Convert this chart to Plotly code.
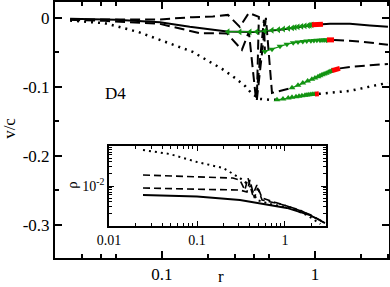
import math
import plotly.graph_objects as go

# ---------------- main panel data (r, v/c) ----------------
solid_r = [0.0251, 0.05, 0.097, 0.152, 0.266, 0.393, 0.591, 0.798, 1.0, 1.254, 1.694, 2.287, 3.0]
solid_v = [-0.0014, -0.0029, -0.0065, -0.013, -0.0196, -0.0203, -0.0174, -0.0138, -0.0101, -0.0087, -0.0087, -0.0109, -0.013]
gS_r = [0.270, 0.323, 0.376, 0.417, 0.471, 0.524, 0.577, 0.622, 0.671, 0.712, 0.740, 0.775, 0.818, 0.861, 0.904, 0.928, 0.955]
gS_v = [-0.0200, -0.0203, -0.0203, -0.0200, -0.0190, -0.0180, -0.0172, -0.0162, -0.0152, -0.0145, -0.0138, -0.0130, -0.0123, -0.0116, -0.0110, -0.0106, -0.0101]
redS_r = [0.955, 1.04, 1.128]
redS_v = [-0.0101, -0.0097, -0.0094]

dashA_r = [0.0251, 0.0423, 0.097, 0.159, 0.215, 0.270, 0.323, 0.370, 0.430, 0.417, 0.478, 0.524, 0.600, 0.708]
dashA_v = [-0.0022, -0.0019, -0.0022, 0.001, 0.0019, 0.0043, -0.013, 0.0072, 0.0014, -0.1188, 0.0, -0.1087, -0.1058, -0.1014]
gA_r = [0.708, 0.775, 0.833, 0.896, 0.955, 1.0, 1.046, 1.079, 1.113, 1.148, 1.185, 1.222, 1.254, 1.293]
gA_v = [-0.1014, -0.0977, -0.0945, -0.0914, -0.0889, -0.0871, -0.0852, -0.0839, -0.0826, -0.0814, -0.0801, -0.0788, -0.0777, -0.0764]
redA_r = [1.293, 1.371, 1.456]
redA_v = [-0.0764, -0.0748, -0.0732]
dashA2_r = [1.456, 1.694, 2.287, 3.0]
dashA2_v = [-0.0732, -0.0712, -0.0688, -0.0667]

dashB_r = [0.0251, 0.0423, 0.097, 0.1253, 0.177, 0.266, 0.333, 0.370, 0.412, 0.464, 0.471]
dashB_v = [-0.0029, -0.0043, -0.0087, -0.0149, -0.0222, -0.0225, -0.0464, -0.0203, -0.1188, -0.0029, -0.0488]
gB_r = [0.471, 0.524, 0.591, 0.656, 0.721, 0.775, 0.833, 0.884, 0.941, 0.985, 1.030, 1.079, 1.113, 1.148, 1.185, 1.197]
gB_v = [-0.0488, -0.0454, -0.0413, -0.0381, -0.0362, -0.0351, -0.0342, -0.0335, -0.0330, -0.0328, -0.0325, -0.0323, -0.0322, -0.0321, -0.0320, -0.0319]
redB_r = [1.197, 1.26, 1.333]
redB_v = [-0.0319, -0.0319, -0.0319]
dashB2_r = [1.333, 1.6, 1.97, 2.45, 3.0]
dashB2_v = [-0.0319, -0.0328, -0.0343, -0.0365, -0.0391]

dot_r = [0.0251, 0.0423, 0.0697, 0.090, 0.159, 0.200, 0.247, 0.300, 0.349, 0.387, 0.437, 0.508, 0.565]
dot_v = [-0.0039, -0.0077, -0.0203, -0.029, -0.0493, -0.0623, -0.0739, -0.087, -0.0986, -0.110, -0.1174, -0.1188, -0.1188]
gD_r = [0.565, 0.618, 0.669, 0.708, 0.752, 0.787, 0.822, 0.861, 0.887, 0.913, 0.941, 0.970, 1.0]
gD_v = [-0.1188, -0.1174, -0.1162, -0.1152, -0.1142, -0.1135, -0.1128, -0.1120, -0.1116, -0.1113, -0.1110, -0.1107, -0.1106]
redD_r = [1.0, 1.03, 1.06]
redD_v = [-0.1105, -0.1103, -0.1101]
dot2_r = [1.06, 1.254, 1.694, 2.4, 3.0]
dot2_v = [-0.1101, -0.1087, -0.1058, -0.0985, -0.0942]

# ---------------- inset data (r, rho) ----------------
in_solid_r = [0.0243, 0.0493, 0.1, 0.308, 0.481, 1.05, 1.92, 2.85]
in_solid_rho = [5.96e-3, 5.8e-3, 5.47e-3, 4.47e-3, 3.76e-3, 2.82e-3, 1.88e-3, 1.19e-3]
in_dashU_r = [0.0243, 0.1, 0.256, 0.308, 0.35, 0.38, 0.43, 0.48, 0.55, 0.77, 1.14, 1.92, 2.85]
in_dashU_rho = [0.0188, 0.0173, 0.0158, 0.0141, 7.9e-3, 0.0158, 5.96e-3, 0.0106, 5.0e-3, 3.9e-3, 3.0e-3, 1.95e-3, 1.2e-3]
in_dashL_r = [0.0243, 0.1, 0.308, 0.37, 0.40, 0.45, 0.49, 0.55, 0.88, 1.48, 2.85]
in_dashL_rho = [8.9e-3, 8.4e-3, 7.9e-3, 7.1e-3, 0.0141, 5.0e-3, 8.9e-3, 4.47e-3, 3.55e-3, 2.5e-3, 1.19e-3]
in_dot_r = [0.0243, 0.049, 0.1, 0.198, 0.308, 0.40, 0.481, 0.675, 1.14, 1.79, 2.53]
in_dot_rho = [0.0794, 0.063, 0.0398, 0.0282, 0.0158, 0.01, 4.47e-3, 3.55e-3, 2.82e-3, 1.88e-3, 1.12e-3]

main_xticks = [0.1, 1]
main_xticktext = ["0.1", "1"]
main_xminor = [0.03, 0.04, 0.05, 0.2, 0.3, 0.4, 0.5, 2, 3]
main_yticks = [0, -0.1, -0.2, -0.3]
main_yticktext = ["0", "-0.1", "-0.2", "-0.3"]
main_yminor = [-0.05, -0.15, -0.25]
in_xticks = [0.01, 0.1, 1]
in_xticktext = ["0.01", "0.1", "1"]
in_xminor = [m * d for d in (0.01, 0.1, 1) for m in range(2, 10)]
in_yticks = [0.01]
in_yticktext = ["10<sup>-2</sup>"]
in_yminor = [m * d for d in (0.001, 0.01) for m in range(2, 10)]

FONT = "Liberation Serif"
GREEN = "#129412"
RED = "#ff0000"
DASH = "10px,5px"
DOT = "2px,5px"

fig = go.Figure()

def line(x, y, dash, width=2, xa="x", ya="y", color="black"):
    fig.add_trace(go.Scatter(x=x, y=y, mode="lines", xaxis=xa, yaxis=ya,
                             line=dict(color=color, width=width, dash=dash),
                             showlegend=False, hoverinfo="skip"))

def greens(x, y, sym):
    fig.add_trace(go.Scatter(x=x, y=y, mode="lines+markers",
                             line=dict(color=GREEN, width=1.2),
                             marker=dict(symbol=sym, size=6, color=GREEN, line=dict(width=0)),
                             showlegend=False, hoverinfo="skip"))

def reds(x, y):
    fig.add_trace(go.Scatter(x=x, y=y, mode="lines",
                             line=dict(color=RED, width=5),
                             showlegend=False, hoverinfo="skip"))

# main curves
line(solid_r, solid_v, "solid")
line(dashA_r, dashA_v, DASH)
line(dashA2_r, dashA2_v, DASH)
line(dashB_r, dashB_v, DASH)
line(dashB2_r, dashB2_v, DASH)
line(dot_r, dot_v, DOT, width=2.5)
line(dot2_r, dot2_v, DOT, width=2.5)

greens(gS_r, gS_v, "triangle-left")
greens(gA_r, gA_v, "triangle-up")
greens(gB_r, gB_v, "triangle-down")
greens(gD_r, gD_v, "triangle-up")
reds(redS_r, redS_v)
reds(redA_r, redA_v)
reds(redB_r, redB_v)
reds(redD_r, redD_v)

# inset curves
line(in_solid_r, in_solid_rho, "solid", width=1.8, xa="x2", ya="y2")
line(in_dashU_r, in_dashU_rho, "7px,4px", width=1.6, xa="x2", ya="y2")
line(in_dashL_r, in_dashL_rho, "7px,4px", width=1.6, xa="x2", ya="y2")
line(in_dot_r, in_dot_rho, "2px,4px", width=2, xa="x2", ya="y2")

axis_common = dict(showline=True, linewidth=2, linecolor="black", mirror="allticks",
                   ticks="inside", tickcolor="black", showgrid=False, zeroline=False,
                   automargin=False)

fig.update_layout(
    width=390, height=287,
    margin=dict(l=55, r=1, t=2, b=29, autoexpand=False),
    paper_bgcolor="white", plot_bgcolor="white",
    font=dict(family=FONT, color="black"),
    xaxis=dict(type="log", range=[math.log10(0.02), 0.484], domain=[0, 1],
               tickvals=main_xticks, ticktext=main_xticktext, ticklen=7, tickwidth=1.5,
               tickfont=dict(size=17, family=FONT),
               minor=dict(tickvals=main_xminor, ticklen=4, tickwidth=1.5, ticks="inside", tickcolor="black"),
               **axis_common),
    yaxis=dict(range=[-0.348, 0.023], domain=[0, 1],
               tickvals=main_yticks, ticktext=main_yticktext, ticklen=7, tickwidth=1.5,
               tickfont=dict(size=17, family=FONT),
               minor=dict(tickvals=main_yminor, ticklen=4, tickwidth=1.5, ticks="inside", tickcolor="black"),
               **axis_common),
    xaxis2=dict(type="log", range=[-2, 0.466], domain=[0.162, 0.811], anchor="y2",
                tickvals=in_xticks, ticktext=in_xticktext, ticklen=5, tickwidth=1.2,
                tickfont=dict(size=14, family=FONT),
                minor=dict(tickvals=in_xminor, ticklen=3, tickwidth=1, ticks="inside", tickcolor="black"),
                **axis_common),
    yaxis2=dict(type="log", range=[-3, -1], domain=[0.125, 0.4375], anchor="x2",
                tickvals=in_yticks, ticktext=in_yticktext, ticklen=5, tickwidth=1.2,
                tickfont=dict(size=14, family=FONT),
                minor=dict(tickvals=in_yminor, ticklen=3, tickwidth=1, ticks="inside", tickcolor="black"),
                **axis_common),
    annotations=[
        dict(text="D4", x=math.log10(0.05), y=-0.109, xref="x", yref="y", showarrow=False,
             xanchor="center", yanchor="middle", font=dict(size=17, family=FONT)),
        dict(text="v/c", x=-0.135, y=0.508, xref="paper", yref="paper", showarrow=False,
             xanchor="center", yanchor="middle", textangle=-90, font=dict(size=17, family=FONT)),
        dict(text="r", x=0.497, y=-0.072, xref="paper", yref="paper", showarrow=False,
             xanchor="center", yanchor="middle", font=dict(size=17, family=FONT)),
        dict(text="ρ", x=0.05, y=0.285, xref="paper", yref="paper", showarrow=False,
             xanchor="center", yanchor="middle", textangle=-90, font=dict(size=15, family=FONT)),
    ],
)

fig.write_html("out.html", config={"displayModeBar": False},
               post_script="document.body.style.margin='0';document.body.style.padding='0';")
